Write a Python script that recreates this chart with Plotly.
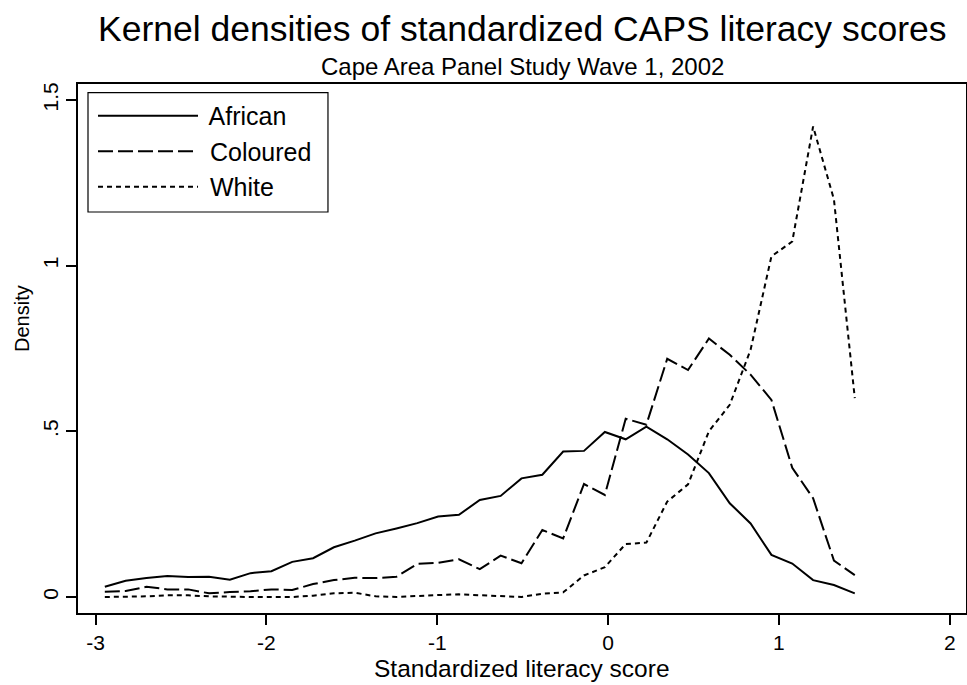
import plotly.graph_objects as go

# evaluation grid of the kernel density estimates
score = [-2.946, -2.824, -2.702, -2.580, -2.458, -2.336, -2.214, -2.093, -1.971,
         -1.849, -1.727, -1.605, -1.483, -1.361, -1.239, -1.117, -0.995, -0.873,
         -0.751, -0.629, -0.507, -0.385, -0.263, -0.141, -0.019, 0.103, 0.224,
         0.346, 0.468, 0.590, 0.712, 0.834, 0.956, 1.078, 1.200, 1.322, 1.444]

african = [0.031, 0.049, 0.057, 0.063, 0.060, 0.061, 0.052, 0.072, 0.078,
           0.106, 0.117, 0.150, 0.170, 0.192, 0.207, 0.223, 0.243, 0.248,
           0.293, 0.305, 0.358, 0.369, 0.439, 0.441, 0.498, 0.476, 0.514,
           0.476, 0.430, 0.374, 0.283, 0.222, 0.127, 0.101, 0.051, 0.036, 0.011]

coloured = [0.016, 0.018, 0.031, 0.023, 0.023, 0.011, 0.015, 0.017, 0.023,
            0.021, 0.039, 0.051, 0.058, 0.057, 0.061, 0.100, 0.103, 0.114,
            0.084, 0.125, 0.102, 0.202, 0.177, 0.341, 0.308, 0.538, 0.520,
            0.719, 0.685, 0.780, 0.731, 0.671, 0.595, 0.390, 0.298, 0.110, 0.066]

white = [0.0, 0.0, 0.002, 0.005, 0.005, 0.002, 0.0, 0.0, 0.0,
         0.0, 0.004, 0.011, 0.013, 0.002, 0.0, 0.004, 0.006, 0.008,
         0.006, 0.003, 0.0, 0.010, 0.014, 0.065, 0.090, 0.160, 0.164,
         0.288, 0.340, 0.500, 0.580, 0.746, 1.028, 1.073, 1.420, 1.200, 0.600]

x_ticks = [-3, -2, -1, 0, 1, 2]
x_ticktext = ["-3", "-2", "-1", "0", "1", "2"]
y_ticks = [0, 0.5, 1, 1.5]
y_ticktext = ["0", ".5", "1", "1.5"]

FONT = "Liberation Sans, Arial, Helvetica, sans-serif"

fig = go.Figure()
fig.add_trace(go.Scatter(name=" African", x=score, y=african, mode="lines",
                         line=dict(color="black", width=2)))
fig.add_trace(go.Scatter(name=" Coloured", x=score, y=coloured, mode="lines",
                         line=dict(color="black", width=2, dash="15px,5px")))
fig.add_trace(go.Scatter(name=" White", x=score, y=white, mode="lines",
                         line=dict(color="black", width=2, dash="5px,4px")))

axis_style = dict(showline=True, linecolor="black", linewidth=1.5, mirror=True,
                  ticks="outside", ticklen=10, tickwidth=1.5, tickcolor="black",
                  showgrid=False, zeroline=False, automargin=False)

fig.update_xaxes(range=[-3.103, 2.095], tickvals=x_ticks, ticktext=x_ticktext,
                 tickfont=dict(family=FONT, size=21, color="black"), **axis_style)
fig.update_yaxes(range=[-0.0483, 1.5483], tickvals=y_ticks, ticktext=y_ticktext,
                 tickangle=-90, tickfont=dict(family=FONT, size=21, color="black"),
                 **axis_style)

# titles
fig.add_annotation(text="Kernel densities of standardized CAPS literacy scores",
                   xref="paper", yref="paper", x=0.5, y=1.104, xanchor="center",
                   yanchor="middle", showarrow=False,
                   font=dict(family=FONT, size=35.5, color="black"))
fig.add_annotation(text="Cape Area Panel Study Wave 1, 2002",
                   xref="paper", yref="paper", x=0.5, y=1.034, xanchor="center",
                   yanchor="middle", showarrow=False,
                   font=dict(family=FONT, size=24, color="black"))
fig.add_annotation(text="Standardized literacy score",
                   xref="paper", yref="paper", x=0.5, y=-0.104, xanchor="center",
                   yanchor="middle", showarrow=False,
                   font=dict(family=FONT, size=24.5, color="black"))
fig.add_annotation(text="Density", textangle=-90,
                   xref="paper", yref="paper", x=-0.0631, y=0.5577, xanchor="center",
                   yanchor="middle", showarrow=False,
                   font=dict(family=FONT, size=20, color="black"))

# legend frame
fig.add_shape(type="rect", xref="paper", yref="paper",
              x0=0.01126, x1=0.2815, y0=0.758, y1=0.9836,
              line=dict(color="black", width=1.2), fillcolor="rgba(0,0,0,0)")

fig.update_layout(
    width=967, height=685,
    margin=dict(l=78, r=1, t=84, b=72),
    paper_bgcolor="white", plot_bgcolor="white",
    font=dict(family=FONT, color="black"),
    legend=dict(x=0.0169, y=0.983, xanchor="left", yanchor="top",
                borderwidth=0, bgcolor="rgba(0,0,0,0)",
                itemwidth=100, font=dict(family=FONT, size=25, color="black")),
)

fig.write_html("out.html", config={"displayModeBar": False},
               post_script="document.body.style.margin='0';")
